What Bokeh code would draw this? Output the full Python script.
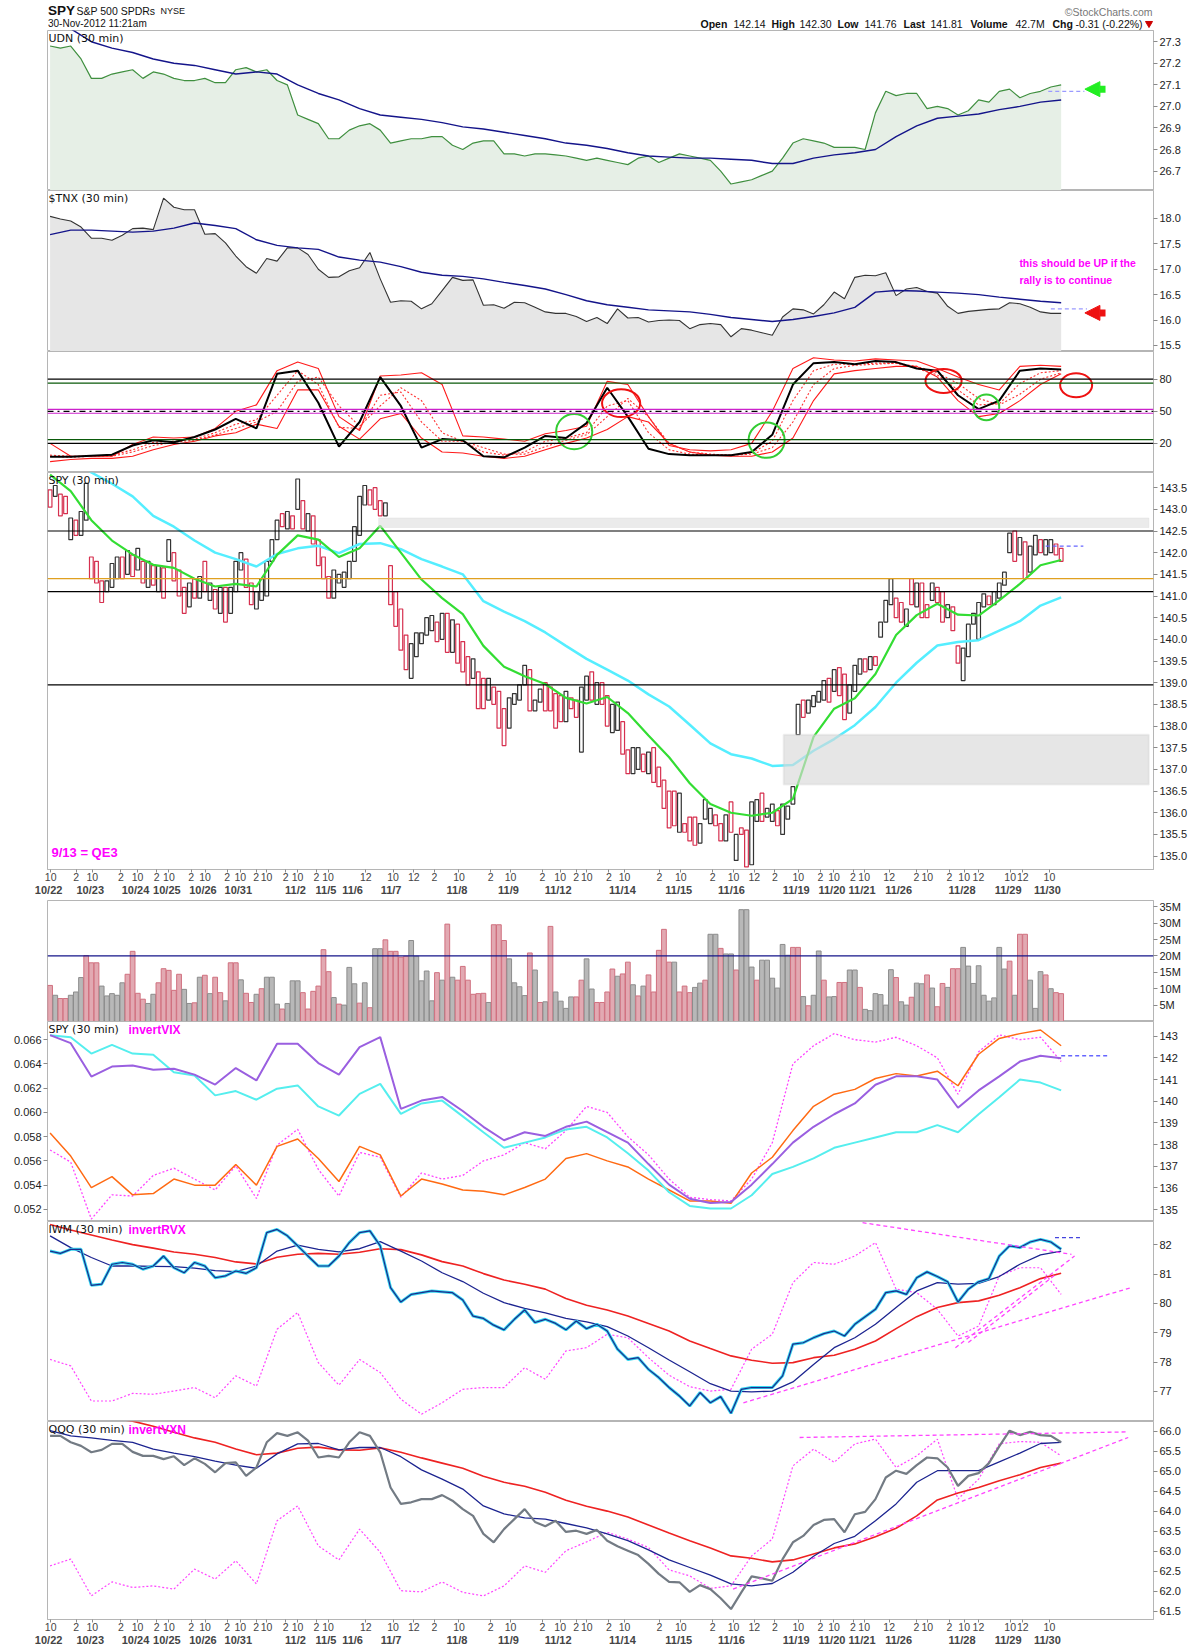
import numpy as np
from bokeh.plotting import figure
from bokeh.layouts import column
from bokeh.models import (Range1d, LinearAxis, FixedTicker, Span, BoxAnnotation, Label,
                          Arrow, NormalHead, PrintfTickFormatter, ColumnDataSource)
from bokeh.embed import file_html
from bokeh.resources import INLINE
from bokeh.core.properties import value

# ====================== DATA ======================
days = ["10/22", "10/23", "10/24", "10/25", "10/26", "10/31", "11/1", "11/2", "11/5", "11/6",
        "11/7", "11/8", "11/9", "11/12", "11/13", "11/14", "11/15", "11/16", "11/19", "11/20",
        "11/21", "11/23", "11/26", "11/27", "11/28", "11/29", "11/30"]
bars_per_day = [8, 9, 6, 7, 7, 5, 6, 6, 5, 7, 13, 10, 10, 5, 7, 11, 10, 13, 7, 6, 4, 3, 5, 7, 9, 8, 3]
hour_labels = ["10 2", "10 2", "10 2", "10 2", "10 2", "10 2", "10 2", "10 2", "10", "12",
               "10 12 2", "10 2", "10 2", "10 2", "10 2", "10 2", "10 2", "10 12 2", "10 2", "10 2",
               "10", "12", "2", "10 2", "10 12", "10 12", "10"]
unlabelled_days = ["11/1", "11/13", "11/23", "11/27"]

# SPY 30-min candles (open, close)
spy_open = [143.45, 143.3, 143.35, 143.3, 142.3, 142.75, 142.4, 142.75, 141.9, 141.8,
            141.35, 141.1, 141.2, 141.4, 141.9, 141.5, 141.95, 141.6, 141.8, 141.2,
            141.7, 141.1, 141.65, 141.8, 142.0, 141.6, 141.2, 140.75, 141.4, 140.95,
            141.8, 140.9, 141.15, 140.6, 141.2, 140.6, 141.1, 141.6, 141.85, 141.3,
            140.7, 140.9, 141.0, 141.8, 142.3, 142.9, 142.55, 142.85, 143.0, 143.2,
            142.5, 142.85, 142.3, 141.9, 141.45, 140.95, 141.3, 141.2, 141.4, 141.8,
            142.4, 143.1, 143.45, 143.5, 143.2, 142.85, 141.7, 141.1, 140.7, 140.1,
            139.1, 139.6, 139.9, 140.1, 140.2, 140.4, 140.0, 140.6, 139.7, 140.35,
            139.95, 139.6, 139.1, 139.25, 139.1, 138.6, 138.9, 138.8, 138.4, 137.95,
            138.5, 138.6, 138.95, 139.3, 138.35, 138.55, 139.0, 138.9, 138.75, 138.7,
            138.1, 138.65, 138.6, 137.4, 138.6, 139.25, 138.5, 139.0, 138.7, 137.85,
            137.9, 138.1, 137.45, 136.9, 137.0, 137.35, 136.9, 137.5, 137.05, 136.75,
            136.5, 136.5, 135.55, 135.75, 135.9, 135.9, 135.3, 135.85, 135.75, 135.95,
            135.75, 135.35, 136.25, 134.9, 135.65, 135.6, 134.8, 135.8, 136.45, 135.9,
            135.8, 136.05, 135.5, 135.85, 136.2, 137.8, 138.6, 138.3, 138.45, 138.55,
            138.6, 139.1, 138.8, 139.35, 139.2, 138.3, 138.8, 139.2, 139.55, 139.3,
            139.6, 140.05, 140.4, 140.8, 140.95, 140.85, 140.3, 141.4, 140.75, 141.3,
            140.8, 140.9, 141.2, 141.1, 140.5, 140.75, 139.85, 139.05, 139.6, 140.35,
            140.0, 140.75, 141.0, 140.8, 140.95, 141.25, 142.0, 142.5, 141.95, 142.25,
            141.55, 141.95, 142.3, 141.95, 142.0, 142.2, 142.1]
spy_close = [143.05, 143.55, 142.85, 142.9, 142.8, 142.4, 142.95, 143.6, 141.4, 141.3,
             140.85, 141.35, 141.75, 141.9, 141.4, 142.05, 141.45, 142.1, 141.3, 141.8,
             141.25, 141.7, 140.95, 142.3, 141.35, 141.0, 140.6, 141.3, 140.95, 141.45,
             141.1, 141.3, 140.7, 141.2, 140.4, 141.2, 141.8, 142.0, 141.2, 140.8,
             141.1, 141.4, 141.8, 142.3, 142.75, 142.6, 142.95, 142.55, 143.7, 142.55,
             142.9, 142.2, 141.7, 141.4, 140.95, 141.6, 141.5, 141.55, 141.8, 142.6,
             143.3, 143.55, 143.1, 143.0, 142.85, 143.15, 140.8, 140.3, 139.75, 139.3,
             139.9, 140.15, 140.15, 140.5, 140.55, 139.95, 140.6, 139.7, 140.45, 139.45,
             139.25, 138.95, 139.55, 138.4, 138.4, 139.1, 138.5, 137.95, 137.55, 138.65,
             138.75, 138.95, 139.4, 138.35, 138.6, 138.85, 138.35, 138.35, 137.95, 138.1,
             138.8, 138.4, 138.2, 138.9, 139.15, 138.6, 139.0, 138.5, 138.0, 138.5,
             138.55, 137.35, 136.9, 137.5, 137.5, 136.95, 137.4, 136.7, 136.6, 136.1,
             135.65, 135.7, 136.45, 135.55, 135.35, 135.25, 135.75, 136.3, 136.1, 135.7,
             135.35, 135.95, 135.55, 135.5, 135.5, 134.75, 136.25, 136.3, 135.8, 136.1,
             136.2, 135.7, 136.2, 136.15, 136.6, 138.5, 138.2, 138.6, 138.7, 138.8,
             139.05, 138.55, 139.3, 138.7, 138.15, 138.95, 139.4, 139.55, 139.25, 139.6,
             139.4, 140.4, 140.9, 141.4, 140.5, 140.4, 140.7, 140.8, 141.3, 140.5,
             140.5, 141.3, 140.85, 140.4, 140.8, 140.2, 139.45, 139.8, 140.35, 140.6,
             140.85, 141.05, 140.8, 141.1, 141.3, 141.55, 142.45, 141.8, 142.35, 141.4,
             142.15, 142.4, 142.0, 142.3, 142.3, 141.95, 141.8]

# SPY volume (millions) and direction (r = down bar, g = up bar)
spy_volume = [11, 8, 7, 7, 8, 9, 13.4, 20.1, 17.9, 17.9,
              10.8, 7.8, 8.5, 8, 11.8, 14.4, 21.4, 8.6, 6.8, 5.5,
              8.3, 11.8, 16.1, 15.6, 9.5, 14.4, 9.8, 5.5, 5.7, 13.5,
              14.1, 8.5, 13.5, 8.8, 6.3, 17.9, 17.9, 12.7, 8.6, 5.8,
              8.3, 10, 13.5, 13.5, 5.3, 3.8, 5.5, 12.4, 12.4, 8.8,
              3.8, 9.2, 10.8, 21.9, 15.2, 7.3, 5.3, 5, 16.5, 11.5,
              5.6, 11.8, 4.2, 22.2, 22.2, 24.9, 21.4, 21.4, 19.6, 19.9,
              24.7, 19.9, 12.4, 15.4, 6.3, 14.9, 12.6, 29.7, 13.5, 12.6,
              16.8, 12.6, 8.3, 8.5, 8.6, 5.8, 29.5, 29.5, 24.7, 19.1,
              11.8, 10.6, 7.9, 20.9, 15.7, 5.8, 6, 29, 9, 6.2,
              4, 7.5, 7.5, 12.6, 19.1, 9.9, 5.8, 5.8, 9, 16,
              13.8, 14.5, 18.1, 11.2, 7.8, 10.8, 14.2, 9, 21.7, 28.1,
              18.1, 18.1, 9, 10.8, 8.8, 10.4, 11.7, 12.6, 26.6, 26.6,
              22.3, 20.6, 20.6, 15.7, 34.1, 34.1, 16.6, 12.6, 18.7, 18.7,
              13.2, 10.2, 23.5, 20.2, 22.6, 22.6, 7.6, 4.8, 8, 21.5,
              12.6, 7.5, 7.6, 11.9, 11.9, 15.7, 15.7, 10.4, 3.7, 3.3,
              8.5, 8.2, 5, 15.8, 13.4, 6, 5, 7.4, 11.7, 11.5,
              14.2, 10.2, 4.5, 11.6, 10.4, 16.1, 16.1, 22.6, 16.9, 11.6,
              17, 8, 6.2, 7.2, 22.6, 16, 18.4, 8, 26.6, 26.6,
              12.6, 4, 15.2, 14.2, 10, 8.8, 8.5]
volume_dir = ("rgrrgggrrr" "gggggrrrrg" "grrrrrggrg" "rgrrgrrgrr" "grgggrgggr"
              "rrrrrgrggg" "rgrggrrrrr" "gggggrgrgr" "rrrrrgrrrg" "gggrgrgrgg"
              "ggrrggrrrr" "grrgrgrrrr" "rgrrrggrgg" "rggrgggrgg" "ggggrrgrgg"
              "rggrrggrgg" "ggggrggrgg" "rgrrgrrggg" "ggggggrgrr" "gggrgrr")

# line series, evenly sampled over the bars (99 values = every 2nd bar, 50 = every 4th bar)
udn = [27.28, 27.27, 27.28, 27.22, 27.13, 27.13, 27.15, 27.16, 27.17, 27.13,
       27.16, 27.15, 27.13, 27.12, 27.12, 27.13, 27.11, 27.11, 27.17, 27.18,
       27.16, 27.17, 27.12, 27.10, 26.96, 26.94, 26.92, 26.85, 26.85, 26.89,
       26.91, 26.92, 26.89, 26.83, 26.84, 26.85, 26.85, 26.86, 26.86, 26.82,
       26.80, 26.83, 26.84, 26.84, 26.78, 26.78, 26.77, 26.78, 26.78, 26.775,
       26.77, 26.76, 26.75, 26.76, 26.75, 26.74, 26.73, 26.76, 26.77, 26.74,
       26.76, 26.78, 26.77, 26.76, 26.75, 26.70, 26.64, 26.65, 26.66, 26.68,
       26.70, 26.76, 26.83, 26.85, 26.84, 26.83, 26.81, 26.81, 26.81, 26.80,
       26.97, 27.07, 27.05, 27.06, 27.06, 26.99, 27.00, 26.99, 26.96, 26.98,
       27.03, 27.02, 27.07, 27.08, 27.04, 27.06, 27.07, 27.09, 27.10]
udn_ma = [27.40, 27.36, 27.30, 27.27, 27.25, 27.22, 27.20, 27.19, 27.17, 27.15,
          27.16, 27.15, 27.10, 27.06, 27.03, 26.99, 26.96, 26.95, 26.94, 26.925,
          26.905, 26.895, 26.88, 26.865, 26.85, 26.83, 26.82, 26.805, 26.785, 26.77,
          26.765, 26.76, 26.76, 26.755, 26.75, 26.735, 26.735, 26.76, 26.775, 26.785,
          26.80, 26.86, 26.91, 26.945, 26.955, 26.965, 26.985, 27.00, 27.02, 27.03]
tnx = [18.04, 17.99, 17.95, 17.83, 17.61, 17.61, 17.57, 17.67, 17.80, 17.81,
       17.78, 18.40, 18.22, 18.17, 18.17, 17.69, 17.70, 17.52, 17.26, 17.05,
       16.92, 17.21, 17.16, 17.42, 17.42, 17.29, 17.00, 16.84, 16.85, 16.97,
       17.03, 17.33, 16.81, 16.35, 16.38, 16.37, 16.22, 16.32, 16.58, 16.84,
       16.78, 16.79, 16.29, 16.30, 16.23, 16.35, 16.34, 16.25, 16.16, 16.13,
       16.13, 16.07, 15.97, 16.05, 15.93, 16.22, 16.04, 16.05, 15.96, 15.99,
       16.00, 15.99, 15.83, 15.91, 15.93, 15.91, 15.67, 15.83, 15.80, 15.75,
       15.70, 16.06, 16.22, 16.20, 16.12, 16.30, 16.55, 16.42, 16.84, 16.88,
       16.87, 16.93, 16.48, 16.61, 16.64, 16.56, 16.53, 16.27, 16.13, 16.17,
       16.19, 16.21, 16.22, 16.34, 16.32, 16.25, 16.16, 16.13, 16.13]
tnx_ma = [17.68, 17.77, 17.77, 17.75, 17.73, 17.75, 17.81, 17.91, 17.86, 17.80,
          17.58, 17.47, 17.42, 17.39, 17.24, 17.18, 17.14, 17.05, 16.94, 16.88,
          16.86, 16.81, 16.74, 16.68, 16.61, 16.50, 16.38, 16.30, 16.25, 16.20,
          16.18, 16.16, 16.11, 16.05, 16.01, 15.97, 16.01, 16.07, 16.14, 16.25,
          16.55, 16.58, 16.57, 16.55, 16.53, 16.50, 16.45, 16.41, 16.37, 16.34]
stoch_k = [7.5, 7.5, 8.5, 9.5, 18, 23, 21, 26, 33, 43, 34, 85, 88, 58, 17, 40, 82, 55, 16, 24,
           23, 8, 7, 16, 27, 25, 39, 72, 45, 15, 10, 9, 9, 9, 12, 28, 75, 95, 96, 94,
           97, 96, 90, 88, 65, 52, 60, 88, 90, 89]
stoch_upper = [20, 8, 8, 8, 19, 26, 25, 26, 34, 50, 56, 88, 96, 90, 45, 32, 83, 84, 86, 75,
               27, 26, 24, 22, 29, 32, 36, 78, 75, 45, 18, 14, 13, 14, 20, 50, 90, 100, 98, 97,
               99, 98, 97, 90, 82, 75, 70, 92, 93, 92]
stoch_lower = [3, 5, 6, 6, 8, 14, 19, 22, 27, 30, 38, 34, 70, 70, 36, 24, 43, 48, 25, 12,
               11, 8, 6, 8, 14, 20, 25, 33, 45, 40, 20, 12, 9, 8, 8, 12, 25, 60, 85, 88,
               90, 92, 92, 82, 60, 45, 48, 60, 75, 85]
stoch_d1 = [8, 7, 8, 9, 14, 21, 22, 24, 30, 38, 42, 65, 88, 75, 35, 34, 65, 68, 40, 22,
            22, 12, 9, 12, 22, 25, 30, 55, 60, 30, 14, 10, 9, 9, 11, 22, 60, 88, 94, 94,
            95, 95, 90, 84, 70, 56, 57, 76, 86, 88]
stoch_d2 = [9, 8, 8, 8, 12, 18, 21, 23, 28, 34, 40, 50, 78, 82, 55, 36, 55, 72, 60, 30,
            22, 16, 10, 10, 17, 23, 28, 45, 62, 45, 20, 12, 10, 9, 10, 16, 40, 75, 90, 93,
            94, 95, 92, 86, 76, 62, 56, 66, 80, 86]
spy_ma_fast = [143.80, 143.42, 142.75, 142.28, 141.96, 141.72, 141.65, 141.40, 141.22, 141.28,
               141.22, 141.95, 142.40, 142.30, 141.90, 142.10, 142.62, 142.00, 141.38, 140.95,
               140.58, 139.85, 139.37, 139.15, 138.97, 138.65, 138.52, 138.67, 138.30, 137.78,
               137.28, 136.68, 136.20, 136.00, 135.93, 136.00, 136.32, 137.75, 138.40, 138.64,
               139.20, 140.10, 140.56, 140.82, 140.57, 140.55, 140.90, 141.28, 141.71, 141.83]
spy_ma_slow = [144.60, 144.20, 143.85, 143.59, 143.30, 142.85, 142.60, 142.28, 142.00, 141.85,
               141.68, 141.97, 142.10, 142.16, 141.99, 142.20, 142.22, 142.08, 141.85, 141.68,
               141.50, 140.88, 140.64, 140.42, 140.16, 139.85, 139.55, 139.30, 139.05, 138.73,
               138.45, 138.03, 137.60, 137.35, 137.25, 137.08, 137.10, 137.43, 137.70, 138.02,
               138.44, 139.00, 139.46, 139.86, 139.94, 139.98, 140.20, 140.42, 140.78, 140.97]
vix_spy = [143.05, 142.68, 141.14, 141.60, 141.65, 141.45, 141.50, 141.23, 140.77, 141.53,
           140.96, 142.65, 142.65, 141.76, 141.23, 142.50, 142.96, 139.65, 140.03, 140.20,
           139.55, 138.82, 138.20, 138.57, 138.40, 138.82, 139.06, 138.57, 138.09, 137.10,
           136.15, 135.50, 135.30, 135.35, 136.15, 137.10, 138.09, 138.82, 139.40, 139.90,
           140.76, 141.15, 141.15, 141.00, 139.70, 140.50, 141.15, 141.83, 142.10, 141.98]
vix_spy_ma = [143.05, 142.95, 142.20, 142.60, 142.20, 142.15, 141.34, 141.19, 140.27, 140.47,
              140.07, 140.58, 140.73, 139.76, 139.34, 140.34, 140.80, 139.42, 139.90, 140.03,
              139.30, 138.57, 137.85, 138.09, 138.33, 138.70, 138.82, 138.33, 137.60, 136.80,
              135.80, 135.17, 135.05, 135.05, 135.66, 136.64, 136.97, 137.36, 137.85, 138.09,
              138.33, 138.57, 138.57, 138.90, 138.57, 139.40, 140.18, 141.00, 140.86, 140.50]
invert_vix = [0.0583, 0.0564, 0.0538, 0.0547, 0.0532, 0.0533, 0.0545, 0.0540, 0.0540, 0.0557,
              0.0540, 0.0572, 0.0578, 0.0562, 0.0543, 0.0572, 0.0565, 0.0531, 0.0545, 0.0541,
              0.0536, 0.0535, 0.0532, 0.0538, 0.0545, 0.0562, 0.0566, 0.0560, 0.0555, 0.0545,
              0.0536, 0.0527, 0.0527, 0.0525, 0.0550, 0.0563, 0.0585, 0.0605, 0.0615, 0.0619,
              0.0628, 0.0632, 0.0630, 0.0634, 0.0622, 0.0648, 0.0661, 0.0665, 0.0668, 0.0655]
invert_vix_raw = [0.0569, 0.0559, 0.0512, 0.0532, 0.0531, 0.0548, 0.0554, 0.0545, 0.0536, 0.0556,
                  0.0529, 0.0573, 0.0586, 0.0553, 0.0531, 0.0567, 0.0563, 0.0530, 0.0550, 0.0545,
                  0.0548, 0.0560, 0.0565, 0.0575, 0.0570, 0.0585, 0.0605, 0.0600, 0.0580, 0.0565,
                  0.0545, 0.0530, 0.0528, 0.0527, 0.0545, 0.0575, 0.0640, 0.0655, 0.0665, 0.0660,
                  0.0658, 0.0662, 0.0655, 0.0645, 0.0615, 0.0650, 0.0664, 0.0660, 0.0662, 0.0642]
iwm = [81.79, 81.71, 81.85, 81.85, 80.62, 80.66, 81.34, 81.40, 81.34, 81.17,
       81.28, 81.62, 81.22, 81.05, 81.40, 81.28, 80.88, 80.94, 81.11, 81.03,
       81.22, 82.42, 82.53, 82.31, 81.97, 81.62, 81.28, 81.28, 81.62, 82.08,
       82.42, 82.48, 81.97, 80.54, 80.05, 80.31, 80.37, 80.43, 80.40, 80.37,
       80.12, 79.57, 79.49, 79.26, 79.10, 79.46, 79.78, 79.35, 79.46, 79.32,
       79.10, 79.40, 79.14, 79.29, 79.06, 78.44, 78.09, 78.15, 77.75, 77.47,
       77.13, 76.84, 76.50, 76.96, 76.61, 76.82, 76.25, 77.07, 77.13, 77.13,
       77.13, 77.53, 78.61, 78.66, 78.83, 78.97, 79.06, 78.89, 79.29, 79.55,
       79.80, 80.37, 80.43, 80.31, 80.88, 81.08, 80.92, 80.74, 80.05, 80.49,
       80.74, 80.85, 81.62, 81.97, 81.91, 82.10, 82.19, 82.10, 81.85]
iwm_ma_fast = [82.31, 81.91, 81.57, 81.28, 81.28, 81.27, 81.26, 81.21, 81.12, 81.09,
               81.28, 81.79, 81.99, 81.85, 81.76, 81.87, 82.11, 81.79, 81.45, 81.05,
               80.75, 80.35, 80.03, 79.83, 79.68, 79.49, 79.37, 79.21, 78.89, 78.49,
               78.07, 77.67, 77.26, 77.01, 76.98, 77.01, 77.32, 77.92, 78.49, 78.83,
               79.29, 79.86, 80.43, 80.71, 80.66, 80.69, 80.92, 81.34, 81.66, 81.79]
iwm_ma_slow = [82.70, 82.51, 82.34, 82.17, 82.01, 81.89, 81.76, 81.68, 81.57, 81.42,
               81.35, 81.58, 81.68, 81.71, 81.68, 81.75, 81.87, 81.84, 81.66, 81.43,
               81.28, 81.02, 80.80, 80.66, 80.49, 80.17, 79.94, 79.78, 79.57, 79.32,
               79.06, 78.72, 78.46, 78.21, 78.06, 77.96, 77.98, 78.15, 78.23, 78.44,
               78.72, 79.14, 79.55, 79.86, 80.03, 80.09, 80.28, 80.54, 80.85, 81.03]
invert_rvx = [78.09, 77.87, 76.67, 76.67, 76.93, 76.90, 77.01, 77.13, 76.78, 77.53,
              77.18, 79.12, 79.69, 77.98, 77.21, 78.09, 77.64, 76.73, 76.22, 76.61,
              77.07, 77.13, 77.13, 77.81, 77.41, 78.38, 78.49, 78.95, 78.83, 78.15,
              77.55, 77.16, 77.01, 77.07, 78.44, 78.95, 80.71, 81.40, 81.34, 81.62,
              82.08, 80.49, 80.37, 79.80, 78.89, 79.23, 80.94, 81.22, 81.22, 80.31]
qqq = [65.88, 65.88, 65.72, 65.63, 65.47, 65.53, 65.68, 65.68, 65.48, 65.38,
       65.38, 65.30, 65.37, 65.15, 65.32, 65.18, 64.97, 65.20, 65.22, 64.88,
       65.09, 65.72, 65.95, 65.88, 65.97, 65.76, 65.34, 65.38, 65.34, 65.72,
       65.97, 65.88, 65.47, 64.59, 64.18, 64.22, 64.30, 64.30, 64.40, 64.26,
       64.05, 63.88, 63.43, 63.22, 63.55, 63.80, 64.05, 63.73, 63.62, 63.76,
       63.48, 63.51, 63.43, 63.53, 63.26, 63.12, 63.01, 62.90, 62.68, 62.43,
       62.23, 62.22, 61.98, 62.15, 62.05, 61.82, 61.55, 61.97, 62.37, 62.32,
       62.26, 62.80, 63.22, 63.38, 63.65, 63.78, 63.80, 63.47, 63.92, 63.98,
       64.30, 64.84, 65.01, 64.93, 65.15, 65.34, 65.32, 65.09, 64.63, 64.88,
       64.95, 65.20, 65.62, 66.01, 65.90, 65.98, 65.90, 65.88, 65.72]
qqq_ma_fast = [66.01, 65.88, 65.83, 65.77, 65.72, 65.55, 65.45, 65.36, 65.25, 65.15,
               65.07, 65.43, 65.68, 65.69, 65.53, 65.59, 65.59, 65.36, 65.03, 64.80,
               64.55, 64.13, 63.93, 63.83, 63.80, 63.69, 63.58, 63.43, 63.26, 63.03,
               62.78, 62.59, 62.40, 62.18, 62.13, 62.19, 62.47, 62.87, 63.19, 63.37,
               63.76, 64.18, 64.72, 65.01, 65.01, 65.01, 65.23, 65.45, 65.69, 65.72]
qqq_ma_slow = [66.60, 66.50, 66.40, 66.32, 66.25, 66.12, 65.97, 65.83, 65.72, 65.55,
               65.41, 65.45, 65.57, 65.60, 65.53, 65.52, 65.58, 65.47, 65.33, 65.20,
               65.07, 64.87, 64.72, 64.62, 64.47, 64.27, 64.12, 64.00, 63.85, 63.65,
               63.45, 63.26, 63.08, 62.88, 62.82, 62.73, 62.78, 62.93, 63.08, 63.18,
               63.36, 63.57, 63.88, 64.28, 64.45, 64.59, 64.76, 64.91, 65.09, 65.20]
invert_vxn = [62.63, 62.80, 61.88, 62.23, 62.09, 62.13, 62.05, 62.55, 62.30, 62.76,
              62.18, 63.76, 64.13, 63.13, 62.78, 63.55, 62.97, 62.01, 61.98, 62.23,
              61.97, 61.88, 62.13, 62.63, 62.47, 63.01, 63.23, 63.47, 63.30, 63.09,
              62.53, 62.38, 62.07, 62.13, 62.88, 63.30, 65.13, 65.55, 65.22, 65.68,
              65.80, 65.09, 65.38, 65.80, 64.30, 64.80, 65.68, 65.74, 65.72, 65.38]

# ====================== LAYOUT ======================
LB, FW, RB = 47, 1106, 45          # left border, frame width, right border (px)
W = LB + FW + RB
FONT = "Liberation Sans"
TAGFONT = "DejaVu Sans"
xr = Range1d(-0.5, 213.9)

N = len(spy_close)
bar_x = np.arange(N)


def xs(series):
    """bar positions of an evenly sampled series"""
    return np.linspace(0, N - 1, len(series))


def style_axis(ax, ticks, fmt):
    ax.ticker = FixedTicker(ticks=ticks)
    ax.formatter = PrintfTickFormatter(format=fmt)
    ax.axis_line_color = "#b5b5b5"
    ax.major_tick_line_color = "#8a8a8a"
    ax.major_tick_out = 4
    ax.major_tick_in = 0
    ax.minor_tick_line_color = None
    ax.major_label_text_font = FONT
    ax.major_label_text_font_size = "11px"
    ax.major_label_text_color = "#222222"
    ax.major_label_standoff = 2


def panel(h, y0, y1, ticks, fmt, bottom=0, yloc="right"):
    p = figure(width=W, height=h, x_range=xr, y_range=Range1d(y0, y1),
               output_backend="svg", toolbar_location=None,
               x_axis_location=None, y_axis_location=yloc,
               min_border_left=LB, min_border_right=RB,
               min_border_top=0, min_border_bottom=bottom)
    p.grid.visible = False
    p.outline_line_color = "#b5b5b5"
    p.background_fill_color = "white"
    p.border_fill_color = "white"
    style_axis(p.yaxis[0], ticks, fmt)
    return p


def tag(p, y, text, color="#111111", bold=False, size="11px", xoff=1, font=TAGFONT):
    p.add_layout(Label(x=-0.5, y=y, x_offset=xoff, y_offset=-1, text=text,
                       text_color=color, text_font=font, text_font_size=size,
                       text_font_style="bold" if bold else "normal",
                       text_baseline="top"))


def seg(p, x0, y0, x1, y1, color, dash="4 3", width=1.3, **kw):
    p.segment(x0=[x0], y0=[y0], x1=[x1], y1=[y1], line_color=color,
              line_dash=dash, line_width=width, **kw)


# ---- header (x in page pixels, y in pixels from the header bottom) ----
HH = 30
hd = figure(width=W, height=HH, x_range=Range1d(LB, LB + FW), y_range=Range1d(0, HH),
            output_backend="svg", toolbar_location=None,
            x_axis_location=None, y_axis_location=None,
            min_border_left=LB, min_border_right=RB, min_border_top=0, min_border_bottom=0)
hd.grid.visible = False
hd.outline_line_color = None


def htext(x, y, t, size="11px", bold=False, color="#111111", align="left"):
    hd.text(x=[x], y=[y], text=[t], text_font=value(FONT), text_font_size=size,
            text_font_style="bold" if bold else "normal", text_color=color,
            text_baseline="middle", text_align=align)


htext(47.5, 20, "SPY", "13.5px", True)
htext(76, 20, "S&P 500 SPDRs", "10.5px")
htext(160, 20, "NYSE", "9px")
htext(47.5, 7, "30-Nov-2012 11:21am", "10px")
htext(1152, 19, "\u00a9StockCharts.com", "10.5px", color="#777777", align="right")
for xx, t, b in [(700, "Open", True), (733, "142.14", False), (771, "High", True),
                 (799, "142.30", False), (837, "Low", True), (864, "141.76", False),
                 (903, "Last", True), (930, "141.81", False), (970, "Volume", True),
                 (1015, "42.7M", False), (1052, "Chg", True), (1075, "-0.31 (-0.22%)", False)]:
    htext(xx, 7, t, "10.5px", b)
hd.scatter(x=[1148.5], y=[7], marker="inverted_triangle", size=7, color="#cc0000")

# ---- UDN ----
p_udn = panel(160, 26.61, 27.352, [26.7, 26.8, 26.9, 27.0, 27.1, 27.2, 27.3], "%.1f")
p_udn.varea(x=xs(udn), y1=26.61, y2=udn, fill_color="#e6efe6")
p_udn.line(xs(udn), udn, line_color="#3f8f3f", line_width=1.2)
p_udn.line(xs(udn_ma), udn_ma, line_color="#14148a", line_width=1.4)
seg(p_udn, 193.5, 27.07, 200.5, 27.07, "#9a9aff")
p_udn.add_layout(Arrow(end=NormalHead(size=15, fill_color="#22ee22", line_color="#22ee22"),
                       x_start=204.6, y_start=27.08, x_end=200.6, y_end=27.08,
                       line_color="#22ee22", line_width=7))
tag(p_udn, 27.352, "UDN (30 min)")

# ---- TNX ----
p_tnx = panel(161, 15.38, 18.55, [15.5, 16.0, 16.5, 17.0, 17.5, 18.0], "%.1f")
p_tnx.varea(x=xs(tnx), y1=15.38, y2=tnx, fill_color="#e6e6e6")
p_tnx.line(xs(tnx), tnx, line_color="#333333", line_width=1.1)
p_tnx.line(xs(tnx_ma), tnx_ma, line_color="#14148a", line_width=1.4)
seg(p_tnx, 194, 16.22, 201, 16.22, "#9a9aff")
p_tnx.add_layout(Arrow(end=NormalHead(size=15, fill_color="#ee1111", line_color="#ee1111"),
                       x_start=204.6, y_start=16.14, x_end=200.6, y_end=16.14,
                       line_color="#ee1111", line_width=7))
for yy, t in [(17.12, "this should be UP if the"), (16.79, "rally is to continue")]:
    p_tnx.add_layout(Label(x=187.9, y=yy, text=t, text_color="#ff00ff", text_font=FONT,
                           text_font_size="10.5px", text_font_style="bold",
                           text_baseline="middle"))
tag(p_tnx, 18.55, "$TNX (30 min)")

# ---- Stochastics ----
p_st = panel(121, -7.2, 105.9, [20, 50, 80], "%d")
for loc, col, dash in [(80, "#000000", "solid"), (20, "#000000", "solid"),
                       (76.4, "#0a5a0a", "solid"), (23.6, "#0a5a0a", "solid"),
                       (51.8, "#cc22cc", "solid"), (48.2, "#cc22cc", "solid"),
                       (50, "#000000", "dashdot")]:
    p_st.add_layout(Span(location=loc, dimension="width", line_color=col,
                         line_width=1.2, line_dash=dash))
p_st.line(xs(stoch_upper), stoch_upper, line_color="#ff1a1a", line_width=1.1)
p_st.line(xs(stoch_lower), stoch_lower, line_color="#ff1a1a", line_width=1.1)
p_st.line(xs(stoch_d1), stoch_d1, line_color="#ff3030", line_width=1.1, line_dash="2 2")
p_st.line(xs(stoch_d2), stoch_d2, line_color="#ff3030", line_width=1.1, line_dash="2 2")
p_st.line(xs(stoch_k), stoch_k, line_color="#000000", line_width=2)
p_st.ellipse(x=[101.6, 138.9, 181.5], y=[31, 23, 53.7], width=[7, 7, 5], height=[33, 33, 24],
             fill_color=None, line_color="#33cc33", line_width=2)
p_st.ellipse(x=[110.7, 173.2, 198.9], y=[57.6, 78.4, 74.4], width=[7.4, 7, 6.2],
             height=[26, 22.5, 22.5], fill_color=None, line_color="#ee1111", line_width=2)

# ---- SPY price ----
p_spy = panel(428, 134.69, 143.85, list(np.arange(135.0, 143.6, 0.5)), "%.1f", bottom=31)
p_spy.add_layout(BoxAnnotation(left=63.7, right=213, bottom=142.58, top=142.80,
                               fill_color="#dedede", fill_alpha=0.6, line_color="#d0d0d0"))
for loc, col in [(142.5, "#000000"), (141.1, "#000000"), (138.95, "#000000"), (141.4, "#e0a020")]:
    p_spy.add_layout(Span(location=loc, dimension="width", line_color=col, line_width=1.2))
o = np.array(spy_open)
c = np.array(spy_close)
src = ColumnDataSource(dict(x=bar_x, top=np.maximum(o, c), bottom=np.minimum(o, c),
                            col=np.where(c >= o, "#333333", "#d6304f")))
p_spy.vbar(x="x", top="top", bottom="bottom", width=0.72, fill_color=None,
           line_color="col", line_width=1.2, source=src)
p_spy.line(xs(spy_ma_slow), spy_ma_slow, line_color="#55eeff", line_width=2.5)
p_spy.line(xs(spy_ma_fast), spy_ma_fast, line_color="#33dd33", line_width=2.2)
p_spy.add_layout(BoxAnnotation(left=142.2, right=213, bottom=136.65, top=137.8,
                               fill_color="#d8d8d8", fill_alpha=0.65, line_color="#cccccc",
                               line_width=2))
seg(p_spy, 193, 142.15, 200.3, 142.15, "#6666ff")
tag(p_spy, 143.85, "SPY (30 min)")
p_spy.add_layout(Label(x=-0.5, y=135.08, x_offset=4, text="9/13 = QE3", text_color="#ff00ff",
                       text_font=FONT, text_font_size="13px", text_font_style="bold",
                       text_baseline="middle"))

# x axes (hours + dates)
starts = np.concatenate([[0], np.cumsum(bars_per_day)[:-1]])
hour_pos, hour_txt, date_pos, date_txt = [], [], [], []
for d, (name, n, s, hl) in enumerate(zip(days, bars_per_day, starts, hour_labels)):
    for h in hl.split():
        h24 = int(h) if int(h) >= 9 else int(h) + 12
        hour_pos.append(round(float(s - 0.5 + (h24 - 9.5) / 6.5 * n), 3))
        hour_txt.append(h)
    if name not in unlabelled_days:
        date_pos.append(round(float(s - 0.5 + 0.5 / 6.5 * n - 0.4), 3))
        date_txt.append(name)


def add_x_axes(p):
    a1 = LinearAxis(ticker=FixedTicker(ticks=hour_pos),
                    major_label_overrides=dict(zip(hour_pos, hour_txt)))
    a1.axis_line_color = "#b5b5b5"
    a1.major_tick_line_color = "#8a8a8a"
    a1.major_tick_out = 3
    a1.major_tick_in = 0
    a1.minor_tick_line_color = None
    a1.major_label_standoff = 0
    a1.major_label_text_font = FONT
    a1.major_label_text_font_size = "10.5px"
    a2 = LinearAxis(ticker=FixedTicker(ticks=date_pos),
                    major_label_overrides=dict(zip(date_pos, date_txt)))
    a2.axis_line_color = None
    a2.major_tick_line_color = None
    a2.minor_tick_line_color = None
    a2.major_tick_out = 0
    a2.major_tick_in = 0
    a2.major_label_standoff = 0
    a2.major_label_text_font = FONT
    a2.major_label_text_font_size = "11px"
    a2.major_label_text_font_style = "bold"
    p.add_layout(a1, "below")
    p.add_layout(a2, "below")


add_x_axes(p_spy)

# ---- Volume ----
p_vol = panel(121, 0, 36.9, [5, 10, 15, 20, 25, 30, 35], "%dM")
flags = np.array(list(volume_dir))
p_vol.vbar(x=bar_x, top=spy_volume, bottom=0, width=0.92,
           fill_color=np.where(flags == "r", "#e2a9b2", "#b8b8b8").tolist(),
           line_color=np.where(flags == "r", "#d0707f", "#8c8c8c").tolist(), line_width=1)
p_vol.add_layout(Span(location=20, dimension="width", line_color="#14148a", line_width=1.3))

# ---- SPY / invertVIX ----
p_vix = panel(200, 0.0510, 0.0675, [0.052, 0.054, 0.056, 0.058, 0.060, 0.062, 0.064, 0.066],
              "%.3f", yloc="left")
p_vix.extra_y_ranges = {"spy": Range1d(134.45, 143.68)}
ax_r = LinearAxis(y_range_name="spy")
style_axis(ax_r, [135, 136, 137, 138, 139, 140, 141, 142, 143], "%d")
p_vix.add_layout(ax_r, "right")
p_vix.line(xs(invert_vix_raw), invert_vix_raw, line_color="#ff44ff", line_width=1.3,
           line_dash="2 2")
p_vix.line(xs(invert_vix), invert_vix, line_color="#ff6a13", line_width=1.5)
p_vix.line(xs(vix_spy_ma), vix_spy_ma, line_color="#55eeee", line_width=2, y_range_name="spy")
p_vix.line(xs(vix_spy), vix_spy, line_color="#9a5fe0", line_width=2, y_range_name="spy")
seg(p_vix, 196, 142.1, 205, 142.1, "#6666ff", y_range_name="spy")
tag(p_vix, 0.0675, "SPY (30 min)")
tag(p_vix, 0.0675, "invertVIX", color="#ff00ff", bold=True, size="12px", xoff=81, font=FONT)

# ---- IWM ----
p_iwm = panel(200, 75.97, 82.8, [77, 78, 79, 80, 81, 82], "%d")
p_iwm.line(xs(invert_rvx), invert_rvx, line_color="#ff44ff", line_width=1.2, line_dash="2 2")
p_iwm.line(xs(iwm_ma_slow), iwm_ma_slow, line_color="#ee2222", line_width=1.6)
p_iwm.line(xs(iwm_ma_fast), iwm_ma_fast, line_color="#1c2490", line_width=1.3)
p_iwm.line(xs(iwm), iwm, line_color="#33d6f0", line_width=3)
p_iwm.line(xs(iwm), iwm, line_color="#1c2a8c", line_width=1.2)
seg(p_iwm, 157.5, 82.76, 198.0, 81.68, "#ff44ff")
seg(p_iwm, 134.4, 76.61, 209.7, 80.55, "#ff44ff")
seg(p_iwm, 175.5, 78.49, 198.6, 81.62, "#ff44ff")
seg(p_iwm, 178.0, 78.67, 195.2, 81.03, "#ff44ff")
seg(p_iwm, 194.8, 82.25, 200.2, 82.25, "#4444dd")
tag(p_iwm, 82.8, "IWM (30 min)")
tag(p_iwm, 82.8, "invertRVX", color="#ff00ff", bold=True, size="12px", xoff=81, font=FONT)

# ---- QQQ ----
p_qqq = panel(228, 61.29, 66.24, [61.5, 62.0, 62.5, 63.0, 63.5, 64.0, 64.5, 65.0, 65.5, 66.0],
              "%.1f", bottom=30)
p_qqq.line(xs(invert_vxn), invert_vxn, line_color="#ff44ff", line_width=1.2, line_dash="2 2")
p_qqq.line(xs(qqq_ma_slow), qqq_ma_slow, line_color="#ee2222", line_width=1.6)
p_qqq.line(xs(qqq_ma_fast), qqq_ma_fast, line_color="#1c2490", line_width=1.3)
p_qqq.line(xs(qqq), qqq, line_color="#737b84", line_width=2.2)
seg(p_qqq, 145.3, 65.84, 209, 65.98, "#ff44ff")
seg(p_qqq, 132.4, 62.05, 209, 65.84, "#ff44ff")
tag(p_qqq, 66.24, "QQQ (30 min)")
tag(p_qqq, 66.24, "invertVXN", color="#ff00ff", bold=True, size="12px", xoff=81, font=FONT)
add_x_axes(p_qqq)

layout = column(hd, p_udn, p_tnx, p_st, p_spy, p_vol, p_vix, p_iwm, p_qqq, spacing=0)
open("out.html", "w").write(file_html(layout, INLINE, "SPY 30 min"))
